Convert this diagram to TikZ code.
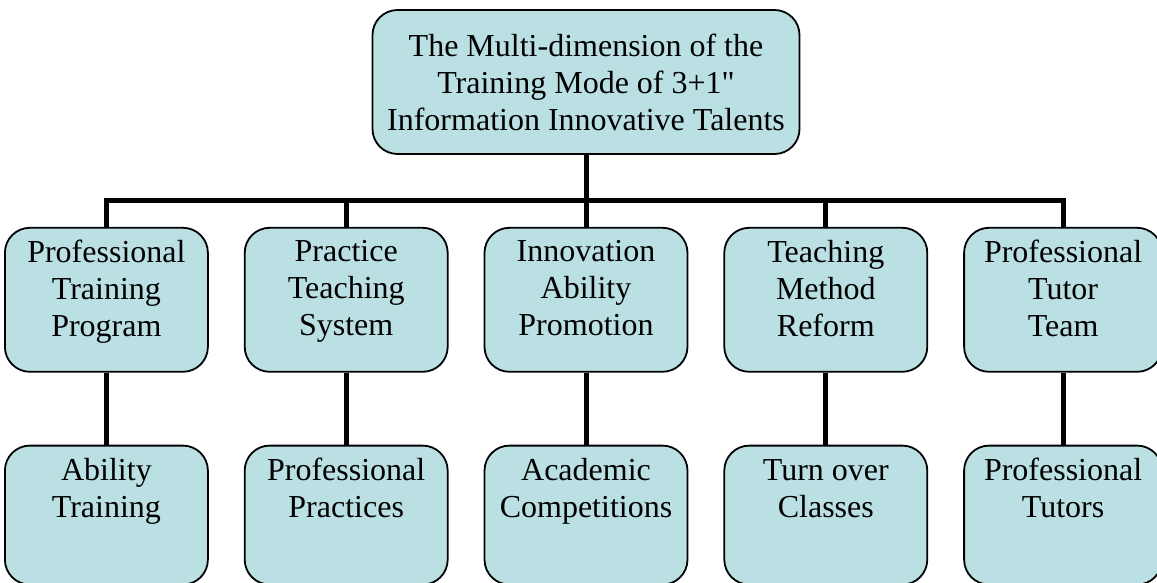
\documentclass[tikz,border=0pt]{standalone}
\usepackage{fontspec}
\setmainfont{Liberation Serif}
\usepackage{xcolor}
\usetikzlibrary{calc,backgrounds,positioning}
\definecolor{boxfill}{RGB}{186,224,227}

\begin{document}
\begin{tikzpicture}[x=1pt,y=-1pt,
        box/.style={draw=black,line width=1.8pt,fill=boxfill,rounded corners=25pt,
            align=center,minimum width=203pt,minimum height=144pt,inner sep=0pt,
            font=\fontsize{32pt}{37pt}\selectfont},
        mid/.style={box,text depth=23pt},
        leaf/.style={box,minimum height=139pt,text depth=17pt},
        conn/.style={line width=5pt}]
        \useasboundingbox (0,0) rectangle (1157,583);
        
        \begin{scope}[node distance=72pt and 35pt]
            %level 1
            \node[box,minimum width=427pt] (top) at (586,82) {The Multi-dimension of the\\Training Mode of 3+1\textquotedbl\\Information Innovative Talents};
        
            %level 2
            \node[mid,below = of top] (mid3) {Innovation\\Ability\\Promotion};
            \node[mid,left = of mid3] (mid2) {Practice\\Teaching\\System};
            \node[mid,left = of mid2] (mid1) {Professional\\Training\\Program};
            \node[mid,right = of mid3] (mid4) {Teaching\\Method\\Reform};
            \node[mid,right = of mid4,minimum width=198pt] (mid5) {Professional\\Tutor\\Team};
        
            %level 3
            \node[leaf,below = of mid1] (leaf1) {Ability\\Training\\\strut};
            \node[leaf,below = of mid2] (leaf2) {Professional\\Practices\\\strut};
            \node[leaf,below = of mid3] (leaf3) {Academic\\Competitions\\\strut};
            \node[leaf,below = of mid4] (leaf4) {Turn over\\Classes\\\strut};
            \node[leaf,below = of mid5,minimum width=198pt] (leaf5) {Professional\\Tutors\\\strut};
        \end{scope}
        
        %bus
        \coordinate (bus) at ($(top.south)!0.64!(mid3.north)$);
        
        \begin{scope}[on background layer={conn}]
            \draw (top.south) -- (bus);
            \draw (mid1.north) |- (bus) -| (mid5.north);
            \draw (mid2.north) -- (mid2.north |- bus);
            \draw (mid3.north) -- (mid3.north |- bus);
            \draw (mid4.north) -- (mid4.north |- bus);
            
            %down
            \draw (mid1) -- (leaf1);
            \draw (mid2) -- (leaf2);
            \draw (mid3) -- (leaf3);
            \draw (mid4) -- (leaf4);
            \draw (mid5) -- (leaf5);
        \end{scope}
    \end{tikzpicture}
\end{document}
